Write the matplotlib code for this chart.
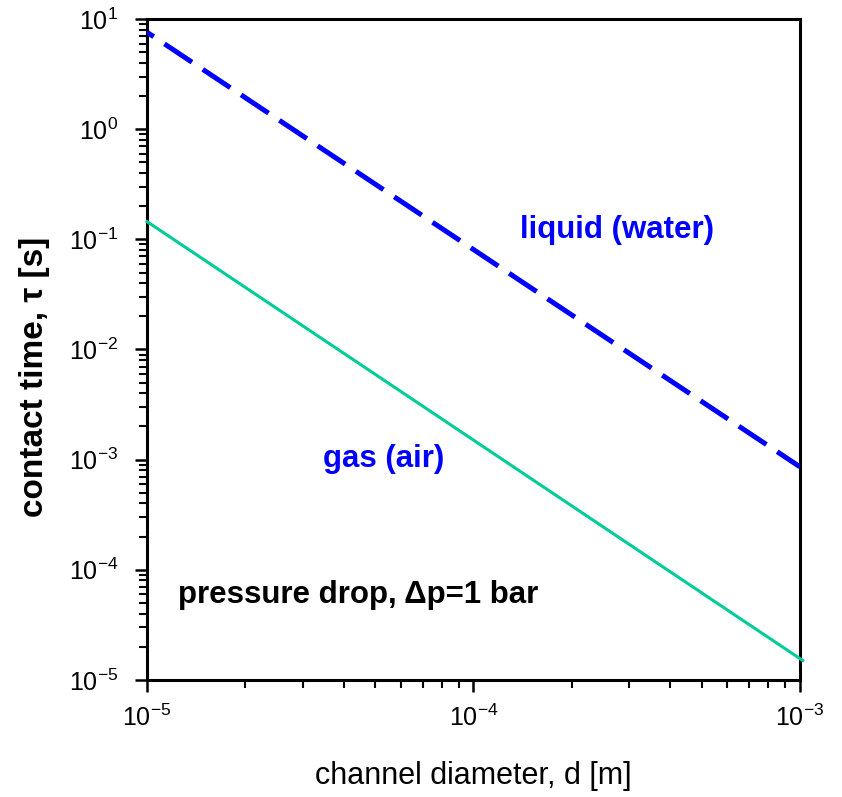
import matplotlib
matplotlib.use("Agg")
import matplotlib.pyplot as plt
from matplotlib.ticker import LogLocator, FixedLocator, NullFormatter

plt.rcParams['font.family'] = ['Liberation Sans', 'DejaVu Sans']
plt.rcParams['mathtext.fontset'] = 'custom'
plt.rcParams['mathtext.rm'] = 'Liberation Sans'
plt.rcParams['mathtext.it'] = 'Liberation Sans:italic'
plt.rcParams['mathtext.bf'] = 'Liberation Sans:bold'

# data
diameter = [1e-5, 1e-3]
tau_liquid = [7.6, 8.6e-4]
diameter_gas = [1e-5, 1.02e-3]
tau_gas = [0.145, 1.5e-5]

x_ticks = [1e-5, 1e-4, 1e-3]
x_labels = ["10$^{-5}$", "10$^{-4}$", "10$^{-3}$"]
y_ticks = [1e-5, 1e-4, 1e-3, 1e-2, 1e-1, 1e0, 1e1]
y_labels = ["10$^{-5}$", "10$^{-4}$", "10$^{-3}$", "10$^{-2}$", "10$^{-1}$", "10$^{0}$", "10$^{1}$"]

fig = plt.figure(figsize=(8.42, 7.97), dpi=100)
ax = fig.add_axes([0.1746, 0.147, 0.7754, 0.829])

ax.plot(diameter, tau_liquid, color='#0000FF', lw=3.6,
        linestyle=(5, (6.6, 2.6)), solid_capstyle='butt', dash_capstyle='butt', zorder=3)
ax.plot(diameter_gas, tau_gas, color='#00CC99', lw=2.2, clip_on=False, zorder=3)

ax.set_xscale('log')
ax.set_yscale('log')
ax.set_xlim(1e-5, 1e-3)
ax.set_ylim(1e-5, 1e1)

ax.xaxis.set_major_locator(FixedLocator(x_ticks))
ax.set_xticklabels(x_labels)
ax.yaxis.set_major_locator(FixedLocator(y_ticks))
ax.set_yticklabels(y_labels)
ax.xaxis.set_minor_locator(LogLocator(base=10, subs=range(2, 10)))
ax.yaxis.set_minor_locator(LogLocator(base=10, subs=range(2, 10)))
ax.xaxis.set_minor_formatter(NullFormatter())
ax.yaxis.set_minor_formatter(NullFormatter())

ax.tick_params(which='major', direction='out', length=8.6, width=1.8, labelsize=18)
ax.tick_params(which='minor', direction='out', length=5.8, width=1.5)
ax.tick_params(axis='y', which='major', pad=12)
ax.tick_params(axis='x', which='major', pad=9)

for s in ax.spines.values():
    s.set_linewidth(2.2)

ax.set_xlabel("channel diameter, d [m]", fontsize=22, labelpad=22)
ax.set_ylabel("contact time, τ [s]", fontsize=24, fontweight='bold')
ax.yaxis.set_label_coords(-0.149, 0.459)

ax.text(2.76e-4, 0.103, "liquid (water)", color='#0000FF', fontsize=22.5,
        fontweight='bold', ha='center', va='baseline')
ax.text(5.3e-5, 8.6e-4, "gas (air)", color='#0000FF', fontsize=22.5,
        fontweight='bold', ha='center', va='baseline')
ax.text(1.245e-5, 5.0e-5, "pressure drop, Δp=1 bar", color='black', fontsize=22.5,
        fontweight='bold', ha='left', va='baseline')

fig.savefig("out.png", dpi=100)
